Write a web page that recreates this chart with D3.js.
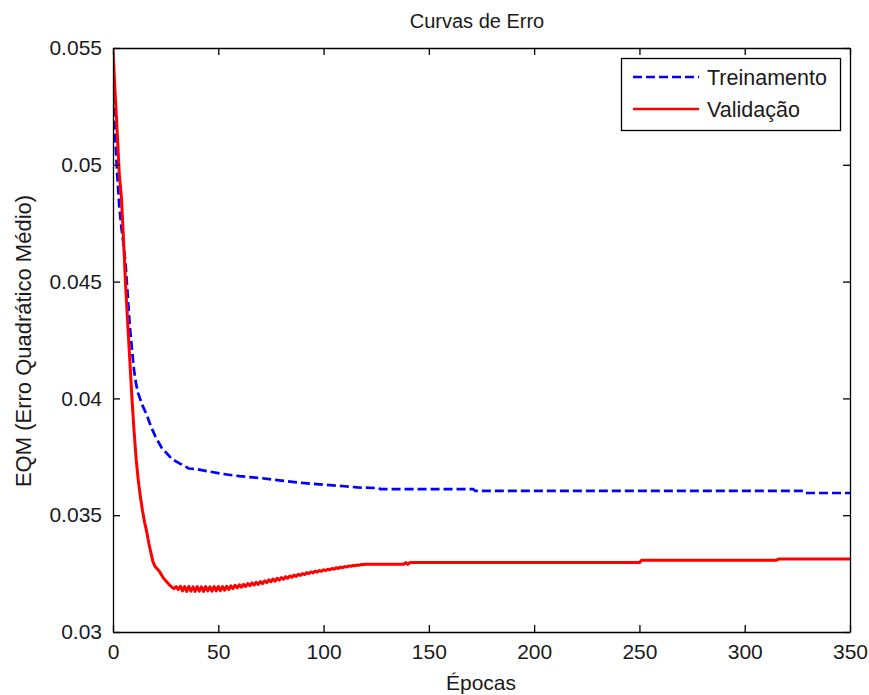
<!DOCTYPE html>
<html>
<head>
<meta charset="utf-8">
<script src="https://cdn.jsdelivr.net/npm/d3@7"></script>
<style>
  html, body { margin: 0; padding: 0; background: #fff; }
  svg { display: block; font-family: "Liberation Sans", Arial, sans-serif; }
</style>
</head>
<body>
<svg id="chart" width="869" height="695"></svg>
<script>
// Training error (EQM) per epoch
const trainEpochs = [0, 1, 2, 3, 4, 5, 6, 7, 8, 9, 10, 11, 12, 14, 16, 18, 20, 23, 26, 28, 32, 36, 40, 45, 52, 60, 70, 80, 90, 100, 110, 116, 126, 127, 171, 172, 328, 329, 350];
const trainValues = [0.0530, 0.0513, 0.0496, 0.0482, 0.0473, 0.0466, 0.0457, 0.0444, 0.0431, 0.0421, 0.0412, 0.0406, 0.0402, 0.0397, 0.0393, 0.0388, 0.0384, 0.0379, 0.0376, 0.0374, 0.0372, 0.0370, 0.03697, 0.03688, 0.03677, 0.03667, 0.03659, 0.03648, 0.03638, 0.03631, 0.03624, 0.03619, 0.03616, 0.03612, 0.03612, 0.03604, 0.03604, 0.03595, 0.03595];

// Validation error (EQM) per epoch
const valEpochs = [0, 1, 2, 3, 4, 5, 6, 7, 8, 9, 10, 11, 12, 13, 14, 15, 16, 17, 18, 19, 20, 22, 24, 26, 27,
  28, 29, 30, 31, 32, 33, 34, 35, 36, 37, 38, 39, 40, 41, 42, 43, 44, 45, 46, 47, 48, 49, 50,
  51, 52, 53, 54, 55, 56, 57, 58, 59, 60, 61, 62, 63, 64, 65, 66, 67, 68, 69, 70,
  71, 72, 73, 74, 75, 76, 77, 78, 79, 80, 81, 82, 83, 84, 85, 86, 87, 88, 89, 90,
  91, 92, 93, 94, 95, 96, 97, 98, 99, 100, 101, 102, 103, 104, 105, 106, 107, 108, 109, 110,
  111, 112, 113, 114, 115, 116, 117, 118, 119, 120, 138, 139, 140, 141, 250, 251, 315, 316, 350];
const valValues = [0.0549, 0.0531, 0.0514, 0.0496, 0.0486, 0.0468, 0.0448, 0.0432, 0.0416, 0.0400, 0.0386, 0.0374, 0.0365, 0.0358, 0.0352, 0.0347, 0.0343, 0.0338, 0.0334, 0.0330, 0.0328, 0.0326, 0.0323, 0.0321, 0.03200,
  0.03192, 0.03186, 0.03194, 0.03182, 0.03196, 0.03176, 0.03194, 0.03174, 0.03195, 0.03175, 0.03193, 0.03174, 0.03194, 0.03175, 0.03193, 0.03174, 0.03194, 0.03176, 0.03193, 0.03175, 0.03194, 0.03176, 0.03195,
  0.03177, 0.03194, 0.03179, 0.03196, 0.03182, 0.03198, 0.03186, 0.03200, 0.03189, 0.03202, 0.03192, 0.03204, 0.03195, 0.03207, 0.03198, 0.03210, 0.03201, 0.03213, 0.03204, 0.03216,
  0.03207, 0.03219, 0.03211, 0.03223, 0.03215, 0.03227, 0.03218, 0.03230, 0.03222, 0.03233, 0.03226, 0.03237, 0.03230, 0.03240, 0.03234, 0.03244, 0.03238, 0.03247, 0.03242, 0.03250,
  0.03246, 0.03254, 0.03250, 0.03257, 0.03253, 0.03260, 0.03257, 0.03263, 0.03260, 0.03266, 0.03263, 0.03269, 0.03266, 0.03272, 0.03269, 0.03275, 0.03272, 0.03278, 0.03275, 0.03280,
  0.03278, 0.03283, 0.03281, 0.03285, 0.03284, 0.03287, 0.03286, 0.03289, 0.03289, 0.03290, 0.03290, 0.03297, 0.03290, 0.03297, 0.03297, 0.03307, 0.03307, 0.03312, 0.03312];

const xTicks = [0, 50, 100, 150, 200, 250, 300, 350];
const yTicks = [0.03, 0.035, 0.04, 0.045, 0.05, 0.055];
const yTickLabels = ["0.03", "0.035", "0.04", "0.045", "0.05", "0.055"];
const seriesNames = ["Treinamento", "Validação"];
const seriesColors = ["#0000ff", "#ff0000"];

const titleText = "Curvas de Erro";
const xLabelText = "Épocas";
const yLabelText = "EQM (Erro Quadrático Médio)";

const margin = { left: 113, right: 19, top: 48, bottom: 63 };
const W = 869, H = 695;
const svg = d3.select("#chart");

const x = d3.scaleLinear().domain([0, 350]).range([margin.left, W - margin.right]);
const y = d3.scaleLinear().domain([0.03, 0.055]).range([H - margin.bottom, margin.top]);

svg.append("defs").append("clipPath").attr("id", "plotClip")
  .append("rect")
  .attr("x", x(0)).attr("y", y(0.055) - 4)
  .attr("width", x(350) - x(0)).attr("height", y(0.03) - y(0.055) + 4);

// Series lines
const line = d3.line().x(d => x(d[0])).y(d => y(d[1]));
const trainData = trainEpochs.map((e, i) => [e, trainValues[i]]);
const valData = valEpochs.map((e, i) => [e, valValues[i]]);

const plot = svg.append("g").attr("clip-path", "url(#plotClip)");
plot.append("path").datum(trainData)
  .attr("d", line).attr("fill", "none")
  .attr("stroke", seriesColors[0]).attr("stroke-width", 2.7)
  .attr("stroke-dasharray", "9,4");
plot.append("path").datum(valData)
  .attr("d", line).attr("fill", "none")
  .attr("stroke", seriesColors[1]).attr("stroke-width", 3)
  .attr("stroke-linejoin", "round");

// Axes box with inward ticks on every side
const tickLen = 7;
const fmtY = (d) => yTickLabels[yTicks.indexOf(d)];
const axStyle = (g) => {
  g.selectAll("path.domain").attr("stroke", "#000").attr("stroke-width", 1.3);
  g.selectAll(".tick line").attr("stroke", "#000").attr("stroke-width", 1.3);
  g.selectAll(".tick text").attr("fill", "#1a1a1a").style("font-size", "21px")
    .style("font-family", "'Liberation Sans', Arial, sans-serif");
};

svg.append("g").attr("transform", `translate(0,${y(0.03)})`)
  .call(d3.axisBottom(x).tickValues(xTicks).tickFormat(d3.format("d"))
    .tickSizeInner(-tickLen).tickSizeOuter(0).tickPadding(12))
  .call(axStyle);
svg.append("g").attr("transform", `translate(0,${y(0.055)})`)
  .call(d3.axisTop(x).tickValues(xTicks).tickFormat("")
    .tickSizeInner(-tickLen).tickSizeOuter(0))
  .call(axStyle);
svg.append("g").attr("transform", `translate(${x(0)},0)`)
  .call(d3.axisLeft(y).tickValues(yTicks).tickFormat(fmtY)
    .tickSizeInner(-tickLen).tickSizeOuter(0).tickPadding(11))
  .call(axStyle);
svg.append("g").attr("transform", `translate(${x(350)},0)`)
  .call(d3.axisRight(y).tickValues(yTicks).tickFormat("")
    .tickSizeInner(-tickLen).tickSizeOuter(0))
  .call(axStyle);

// Title and axis labels
svg.append("text").attr("x", 477).attr("y", 28)
  .attr("text-anchor", "middle").style("font-size", "20px").attr("fill", "#1a1a1a")
  .text(titleText);
svg.append("text").attr("x", 481).attr("y", 690)
  .attr("text-anchor", "middle").style("font-size", "21px").attr("fill", "#1a1a1a")
  .text(xLabelText);
svg.append("text").attr("transform", "translate(31,341) rotate(-90)")
  .attr("text-anchor", "middle").style("font-size", "22px").attr("fill", "#1a1a1a")
  .text(yLabelText);

// Legend
const lg = svg.append("g");
lg.append("rect").attr("x", 621.5).attr("y", 58.5).attr("width", 219).attr("height", 72)
  .attr("fill", "#fff").attr("stroke", "#000").attr("stroke-width", 1.3);
const legendRows = [
  { name: seriesNames[0], color: seriesColors[0], dash: "9,4", cy: 77 },
  { name: seriesNames[1], color: seriesColors[1], dash: null, cy: 109 }
];
legendRows.forEach(r => {
  lg.append("line").attr("x1", 633).attr("x2", 699).attr("y1", r.cy).attr("y2", r.cy)
    .attr("stroke", r.color).attr("stroke-width", 2.7)
    .attr("stroke-dasharray", r.dash);
  lg.append("text").attr("x", 707).attr("y", r.cy + 8)
    .style("font-size", "21.5px").attr("fill", "#1a1a1a").text(r.name);
});
</script>
</body>
</html>
